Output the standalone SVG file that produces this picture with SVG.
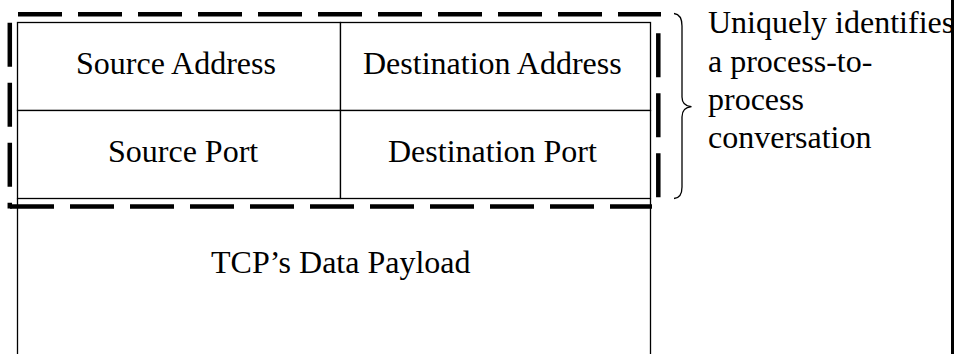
<svg xmlns="http://www.w3.org/2000/svg" width="957" height="354" viewBox="0 0 957 354">
<style>
  .cell { fill: #fff; stroke: #000; stroke-width: 1.3; }
  .ln { fill: none; stroke: #000; stroke-width: 1.3; }
  .dash { fill: none; stroke: #000; stroke-width: 4.5; stroke-dasharray: 44 16; }
  .t { font-family: "Liberation Serif", "Times New Roman", serif; font-size: 32px; fill: #000; }
</style>
<rect x="0" y="0" width="957" height="354" fill="#fff"/>
<g id="payload">
  <path class="ln" d="M17.5,198.5 L17.5,354 M650.5,198.5 L650.5,354"/>
  <text class="t" x="211" y="273">TCP’s Data Payload</text>
</g>
<g id="src-addr">
  <rect class="cell" x="17.5" y="22.5" width="323" height="88"/>
  <text class="t" x="76" y="74">Source Address</text>
</g>
<g id="dst-addr">
  <rect class="cell" x="340.5" y="22.5" width="310" height="88"/>
  <text class="t" x="363" y="73.5">Destination Address</text>
</g>
<g id="src-port">
  <rect class="cell" x="17.5" y="110.5" width="323" height="88"/>
  <text class="t" x="108" y="162">Source Port</text>
</g>
<g id="dst-port">
  <rect class="cell" x="340.5" y="110.5" width="310" height="88"/>
  <text class="t" x="388" y="162">Destination Port</text>
</g>
<g id="connectors">
  <g id="dashed-boundary">
    <line class="dash" x1="18" y1="14.3" x2="661" y2="14.3"/>
    <line class="dash" x1="658.3" y1="33.3" x2="658.3" y2="209"/>
    <line class="dash" x1="10" y1="206.5" x2="652" y2="206.5"/>
    <line class="dash" x1="9.8" y1="22.7" x2="9.8" y2="208.5"/>
  </g>
  <path id="brace" class="ln" d="M674,13.5 Q682,14.5 682,26 L682,97 Q682,106 691.5,106.7 Q682,107.5 682,117 L682,187 Q682,198 674,198.5"/>
</g>
<g id="annotation">
  <text class="t" x="708" y="33">Uniquely identifies</text>
  <text class="t" x="708" y="71.5">a process-to-</text>
  <text class="t" x="708" y="110">process</text>
  <text class="t" x="708" y="148">conversation</text>
</g>
<line id="right-border" x1="952.5" y1="0" x2="952.5" y2="354" stroke="#000" stroke-width="3"/>
</svg>
